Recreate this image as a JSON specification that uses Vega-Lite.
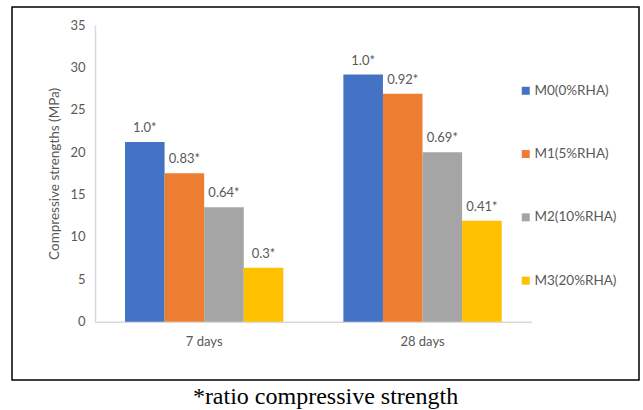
{
  "$schema": "https://vega.github.io/schema/vega-lite/v6.json",
  "autosize": "none",
  "width": 627,
  "height": 373,
  "padding": {"left": 12, "top": 7, "right": 4, "bottom": 30},
  "background": "white",
  "title": {
    "text": "*ratio compressive strength",
    "orient": "bottom",
    "anchor": "middle",
    "font": "Liberation Serif, Times New Roman, serif",
    "fontSize": 24,
    "fontWeight": "normal",
    "color": "black",
    "offset": 5
  },
  "config": {
    "view": {"stroke": "black", "strokeWidth": 1.5},
    "font": "Lato"
  },
  "data": {
    "values": [
      {"age": "7 days", "mix": "M0(0%RHA)", "strength": 21.2, "ratio": "1.0*"},
      {"age": "7 days", "mix": "M1(5%RHA)", "strength": 17.5, "ratio": "0.83*"},
      {"age": "7 days", "mix": "M2(10%RHA)", "strength": 13.5, "ratio": "0.64*"},
      {"age": "7 days", "mix": "M3(20%RHA)", "strength": 6.35, "ratio": "0.3*"},
      {"age": "28 days", "mix": "M0(0%RHA)", "strength": 29.15, "ratio": "1.0*"},
      {"age": "28 days", "mix": "M1(5%RHA)", "strength": 26.9, "ratio": "0.92*"},
      {"age": "28 days", "mix": "M2(10%RHA)", "strength": 20.0, "ratio": "0.69*"},
      {"age": "28 days", "mix": "M3(20%RHA)", "strength": 11.9, "ratio": "0.41*"}
    ]
  },
  "encoding": {
    "x": {
      "field": "age",
      "type": "nominal",
      "sort": ["7 days", "28 days"],
      "scale": {"range": [83, 519.7], "paddingInner": 0.275, "paddingOuter": 0.1375},
      "axis": {
        "title": null,
        "labelAngle": 0,
        "offset": -58.3,
        "domainColor": "#d9d9d9",
        "domainWidth": 1.5,
        "ticks": false,
        "labelPadding": 14,
        "labelFontSize": 13,
        "labelColor": "#595959",
        "labelFont": "Lato"
      }
    },
    "xOffset": {
      "field": "mix",
      "type": "nominal",
      "sort": ["M0(0%RHA)", "M1(5%RHA)", "M2(10%RHA)", "M3(20%RHA)"],
      "scale": {"paddingInner": 0, "paddingOuter": 0}
    },
    "y": {
      "field": "strength",
      "type": "quantitative",
      "scale": {"domain": [0, 35], "range": [314.7, 18], "nice": false},
      "axis": {
        "title": "Compressive strengths (MPa)",
        "titleFontSize": 13.5,
        "titleFontWeight": "normal",
        "titleColor": "#595959",
        "titleFont": "Lato",
        "titlePadding": 8,
        "values": [0, 5, 10, 15, 20, 25, 30, 35],
        "offset": -83,
        "domainColor": "#d9d9d9",
        "domainWidth": 1.5,
        "ticks": false,
        "grid": false,
        "labelPadding": 10,
        "labelFontSize": 13,
        "labelColor": "#595959",
        "labelFont": "Lato"
      }
    }
  },
  "layer": [
    {
      "mark": {"type": "bar"},
      "encoding": {
        "color": {
          "field": "mix",
          "type": "nominal",
          "sort": ["M0(0%RHA)", "M1(5%RHA)", "M2(10%RHA)", "M3(20%RHA)"],
          "scale": {"range": ["#4472C4", "#ED7D31", "#A5A5A5", "#FFC000"]},
          "legend": {
            "title": null,
            "orient": "none",
            "legendX": 507,
            "legendY": 77,
            "symbolType": "square",
            "symbolSize": 64,
            "symbolStrokeWidth": 0,
            "labelFontSize": 13.5,
            "labelColor": "#595959",
            "labelFont": "Lato",
            "labelOffset": 2,
            "rowPadding": 48.3
          }
        }
      }
    },
    {
      "mark": {"type": "text", "baseline": "alphabetic", "dy": -10, "fontSize": 13, "color": "#595959", "font": "Lato"},
      "encoding": {"text": {"field": "ratio"}}
    }
  ]
}
